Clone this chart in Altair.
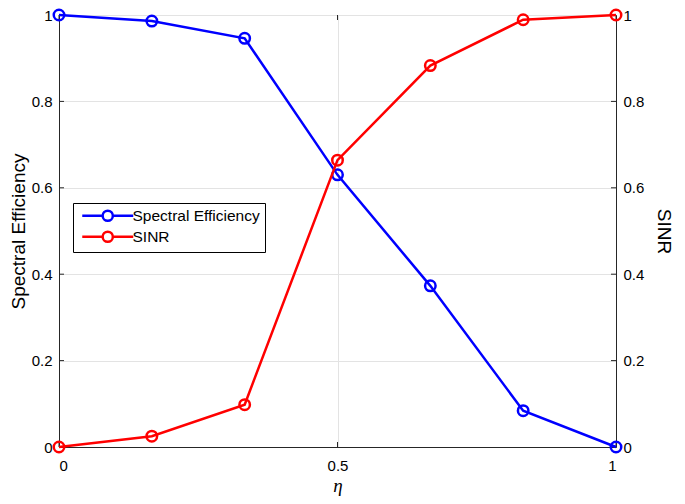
import altair as alt
import pandas as pd

eta = [0, 1/6, 1/3, 0.5, 2/3, 5/6, 1]
spectral_eff = [1.0, 0.986, 0.946, 0.630, 0.373, 0.084, 0.0]
sinr = [0.0, 0.025, 0.098, 0.664, 0.883, 0.989, 1.0]
series_names = ["Spectral Efficiency", "SINR"]
series_colors = ["#0000ff", "#ff0000"]
x_ticks = [0, 0.5, 1]
y_ticks = [0, 0.2, 0.4, 0.6, 0.8, 1]

W, H = 557, 432
AX = "#262626"
FONT = "Liberation Sans"

df_se = pd.DataFrame({"eta": eta, "value": spectral_eff, "series": series_names[0]})
df_sinr = pd.DataFrame({"eta": eta, "value": sinr, "series": series_names[1]})
df_xt = pd.DataFrame({"v": x_ticks})
df_yt = pd.DataFrame({"v": y_ticks})

xscale = alt.Scale(domain=[0, 1], nice=False, zero=False)
yscale = alt.Scale(domain=[0, 1], nice=False)
color_scale = alt.Scale(domain=series_names, range=series_colors)

xaxis = alt.Axis(values=x_ticks, format="~g", ticks=False, grid=True, labelPadding=11,
                 title="η", titleFont="Liberation Serif", titleFontStyle="italic",
                 titleFontSize=19, titlePadding=3)
x_enc = alt.X("eta:Q", scale=xscale, axis=xaxis)

legend = alt.Legend(
    orient="none", legendX=14, legendY=188, title=None,
    symbolType="M-5,0L-1,0M1,0L5,0M1,0A1,1,0,1,1,-1,0A1,1,0,1,1,1,0",
    symbolSize=104, symbolStrokeWidth=2.5, symbolOffset=22, labelOffset=17,
    labelFontSize=15.5, labelFont=FONT, labelColor="#000000",
    strokeColor="#000000", fillColor="#ffffff", padding=5, rowPadding=0,
)

se_line = alt.Chart(df_se).mark_line(strokeWidth=2.5).encode(
    x=x_enc,
    y=alt.Y("value:Q", scale=yscale,
            axis=alt.Axis(orient="left", values=y_ticks, format="~g", ticks=False, grid=True,
                          gridColor="#e3e3e3", labelPadding=7, title="Spectral Efficiency",
                          titlePadding=3)),
    color=alt.Color("series:N", scale=color_scale, legend=legend),
)
se_pts = alt.Chart(df_se).mark_point(shape="circle", filled=False, size=110, strokeWidth=2.5,
                                     color=series_colors[0], opacity=1).encode(
    x=alt.X("eta:Q", scale=xscale),
    y=alt.Y("value:Q", scale=yscale, axis=None),
)
sinr_line = alt.Chart(df_sinr).mark_line(strokeWidth=2.5).encode(
    x=alt.X("eta:Q", scale=xscale),
    y=alt.Y("value:Q", scale=yscale,
            axis=alt.Axis(orient="right", values=y_ticks, format="~g", ticks=False, grid=False,
                          labelPadding=7, title="SINR", titlePadding=10)),
    color=alt.Color("series:N", scale=color_scale, legend=legend),
)
sinr_pts = alt.Chart(df_sinr).mark_point(shape="circle", filled=False, size=110, strokeWidth=2.5,
                                         color=series_colors[1], opacity=1).encode(
    x=alt.X("eta:Q", scale=xscale),
    y=alt.Y("value:Q", scale=yscale, axis=None),
)

tick_len = 5
left_ticks = alt.Chart(df_yt).mark_rule(color=AX, strokeWidth=1).encode(
    y=alt.Y("v:Q", scale=yscale, axis=None), x=alt.value(0), x2=alt.value(tick_len))
right_ticks = alt.Chart(df_yt).mark_rule(color=AX, strokeWidth=1).encode(
    y=alt.Y("v:Q", scale=yscale, axis=None), x=alt.value(W - tick_len), x2=alt.value(W))
bottom_ticks = alt.Chart(df_xt).mark_rule(color=AX, strokeWidth=1).encode(
    x=alt.X("v:Q", scale=xscale), y=alt.value(H - tick_len), y2=alt.value(H))
top_ticks = alt.Chart(df_xt).mark_rule(color=AX, strokeWidth=1).encode(
    x=alt.X("v:Q", scale=xscale), y=alt.value(0), y2=alt.value(tick_len))

chart = alt.layer(
    left_ticks, right_ticks, bottom_ticks, top_ticks,
    se_line, se_pts, sinr_line, sinr_pts,
).resolve_scale(y="independent").properties(
    width=W, height=H,
    autosize=alt.AutoSizeParams(type="none"),
    padding={"left": 51, "top": 7, "right": 61, "bottom": 49},
).configure_view(
    stroke=AX, strokeWidth=1
).configure_axis(
    labelFont=FONT, labelFontSize=15, labelColor="#000000",
    titleFont=FONT, titleFontSize=19, titleFontWeight="normal", titleColor="#000000",
    domainColor=AX, domainWidth=1, gridColor="#e3e3e3", gridWidth=1,
)

chart.save("out.html", embed_options={"renderer": "svg", "actions": False})
